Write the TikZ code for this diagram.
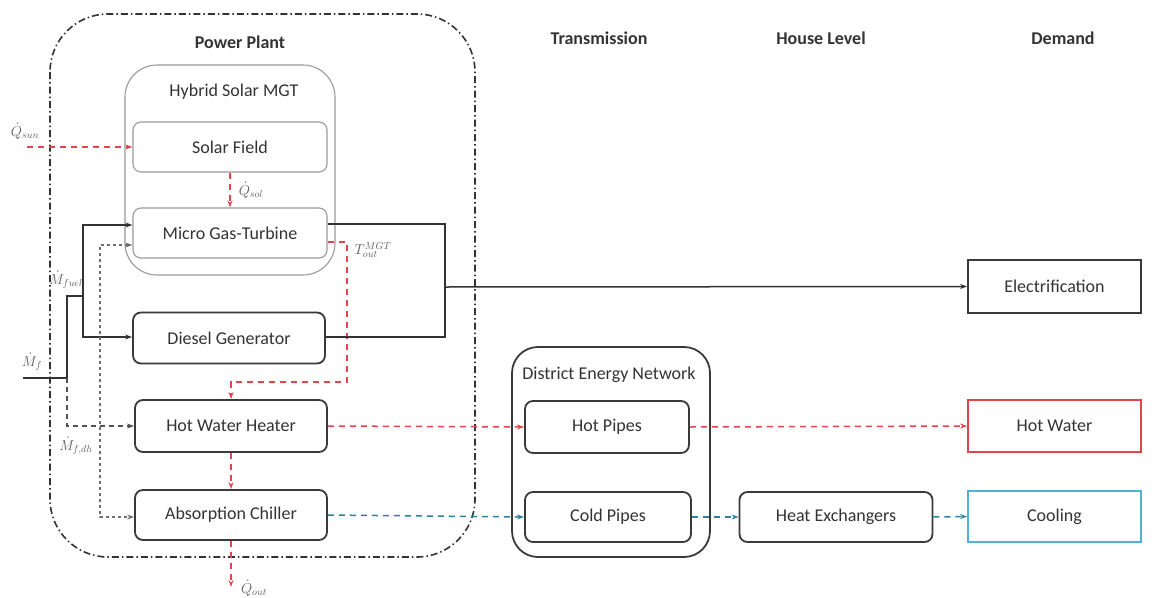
\documentclass[tikz,border=0pt]{standalone}
\usepackage{fontspec}
\setmainfont{Carlito}
\usetikzlibrary{arrows.meta}
\definecolor{ink}{HTML}{333333}
\definecolor{frame}{HTML}{3A3A3A}
\definecolor{soft}{HTML}{9A9A9A}
\definecolor{heat}{HTML}{E0464A}
\definecolor{cool}{HTML}{2E7FA0}
\definecolor{coolbox}{HTML}{4FB3D6}
\begin{document}
\begin{tikzpicture}[x=1pt,y=-1pt,
  txt/.style={font=\fontsize{18}{21}\selectfont, text=ink},
  hdr/.style={font=\fontsize{18}{21}\selectfont\bfseries, text=ink},
  sym/.style={font=\fontsize{14}{16}\selectfont, text=ink!80},
  unit/.style={txt, draw=frame, line width=1.8pt, rounded corners=8pt, fill=white,
    inner sep=0pt, minimum width=192pt, minimum height=51pt},
  lightunit/.style={unit, draw=soft, line width=1.1pt},
  demand/.style={unit, rounded corners=0pt, minimum width=173pt, minimum height=52pt},
  tip/.style={-{Stealth[length=7pt,width=5pt]}},
  fuel/.style={draw=ink, line width=1.5pt},
  fuelfeed/.style={draw=ink!85, line width=1.5pt, dash pattern=on 5pt off 4pt},
  exhaust/.style={draw=ink!70, line width=1.5pt, dash pattern=on 3pt off 3pt},
  heatline/.style={draw=heat, line width=1.5pt, dash pattern=on 6pt off 5pt},
  coolline/.style={draw=cool, line width=1.5pt, dash pattern=on 6pt off 5pt},
]
\useasboundingbox (0,0) rectangle (1156,597);

% power plant boundary and sub-system frames
\draw[ink, line width=1.6pt, dash pattern=on 7pt off 3pt on 1.5pt off 3pt, rounded corners=58pt]
  (50,14) rectangle (475,557);
\draw[soft, line width=1.1pt, rounded corners=32pt] (125,65) rectangle (335,275);
\draw[frame, line width=1.8pt, rounded corners=26pt] (512,347) rectangle (710,557);

% column headings
\node[hdr] (hpp) at (240,42) {Power Plant};
\node[hdr] (htr) at (599,38) {Transmission};
\node[hdr] (hhl) at (821,38) {House Level};
\node[hdr] (hdm) at (1063,38) {Demand};
\node[txt] (hmgt) at (234,92) {Hybrid Solar MGT};
\node[txt] (hden) at (609,375) {District Energy Network};

% components
\node[lightunit, minimum width=194pt, minimum height=50pt] (sf) at (230,147) {Solar Field};
\node[lightunit, minimum width=194pt, minimum height=50pt] (mgt) at (230,233) {Micro Gas-Turbine};
\node[unit] (dg) at (229,338) {Diesel Generator};
\node[unit, minimum height=52pt] (hwh) at (231,426) {Hot Water Heater};
\node[unit, minimum height=50pt] (ac) at (231,515) {Absorption Chiller};
\node[unit, minimum width=164pt, minimum height=52pt] (hp) at (607,427) {Hot Pipes};
\node[unit, minimum width=166pt, minimum height=50pt] (cp) at (608,517) {Cold Pipes};
\node[unit, minimum width=193pt, minimum height=50pt] (hx) at (836,517) {Heat Exchangers};
\node[demand, minimum height=53pt] (el) at (1054.5,286.5) {Electrification};
\node[demand, draw=heat] (hw) at (1054.5,426) {Hot Water};
\node[demand, draw=coolbox, minimum height=51pt] (co) at (1054.5,516.5) {Cooling};

% solar heat
\coordinate (qs) at (27,147);
\draw[heatline, tip] (qs) -- (sf.west);
\draw[heatline, tip] (sf.south) -- (mgt.north);
\node[sym] (lqsun) at (25,131) {$\dot{Q}_{sun}$};
\node[sym] (lqsol) at (251,190) {$\dot{Q}_{sol}$};

% fuel supply
\coordinate (f0) at (23,378);
\coordinate (f1) at (67,378);
\coordinate (f2) at (67,296);
\coordinate (f3) at (83,296);
\coordinate (f4) at (83,225);
\coordinate (f5) at (83,337);
\draw[fuel] (f0) -- (f1) -- (f2) -- (f3);
\draw[fuel, tip] (f3) -- (f4) -- (f4 -| mgt.west);
\draw[fuel, tip] (f3) -- (f5) -- (f5 -| dg.west);
\draw[fuelfeed, tip] (f1) |- (hwh.west);
\node[sym] (lmf) at (32,362) {$\dot{M}_{f}$};
\node[sym] (lmfuel) at (66,280) {$\dot{M}_{fuel}$};
\node[sym] (lmfdh) at (76,446) {$\dot{M}_{f,dh}$};

% auxiliary feed line
\coordinate (g1) at (100,245);
\coordinate (g2) at (100,517);
\draw[exhaust, {Stealth[length=7pt,width=5pt]}-{Stealth[length=7pt,width=5pt]}]
  (g1 -| mgt.west) -- (g1) -- (g2) -- (g2 -| ac.west);

% turbine exhaust to the hot water heater
\coordinate (t1) at (347,242);
\coordinate (t2) at (347,382);
\coordinate (t3) at (231,382);
\draw[heatline, tip] (t1 -| mgt.east) -- (t1) -- (t2) -- (t3) -- (hwh.north);
\node[sym] (ltout) at (373,250) {$T_{out}^{MGT}$};

% electricity
\coordinate (e1) at (445,224);
\coordinate (e2) at (445,337);
\coordinate (e3) at (445,287);
\draw[fuel] (e1 -| mgt.east) -- (e1) -- (e2) -- (e2 -| dg.east);
\draw[fuel, tip] (e3) -- (el.west);

% heat and cooling distribution
\coordinate (qo) at (231,587);
\draw[heatline, tip] (hwh.south) -- (ac.north);
\draw[heatline, tip] (ac.south) -- (qo);
\node[sym] (lqout) at (254,588) {$\dot{Q}_{out}$};
\draw[heatline, tip] (hwh.east) -- (hp.west);
\draw[heatline, tip] (hp.east) -- (hw.west);
\draw[coolline, tip] (ac.east) -- (cp.west);
\draw[coolline, tip] (cp.east) -- (hx.west);
\draw[coolline, tip] (hx.east) -- (co.west);
\end{tikzpicture}
\end{document}
